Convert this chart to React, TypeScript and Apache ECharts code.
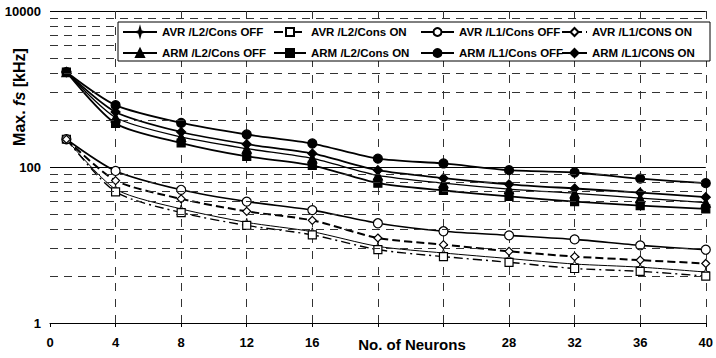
import React, { useEffect, useRef } from "react";
import * as echarts from "echarts";

// Number of neurons at which each configuration was measured
const neurons = [1, 4, 8, 12, 16, 20, 24, 28, 32, 36, 40];

// Maximum sampling frequency fs in kHz
const avrL2ConsOff = [227, 52, 29, 19.5, 14.8, 9.6, 7.9, 6.7, 5.7, 5.2, 4.5];
const avrL2ConsOn = [227, 48, 26, 17.8, 13.5, 8.7, 7.1, 6.0, 5.0, 4.6, 4.0];
const avrL1ConsOff = [227, 89, 51, 36, 28, 19, 15, 13.3, 11.8, 9.9, 8.7];
const avrL1ConsOn = [227, 67, 39, 27, 20.7, 12.3, 10.1, 8.3, 7.1, 6.4, 5.8];
const armL2ConsOff = [1650, 431, 243, 172, 129, 78, 62, 52, 46, 40, 35];
const armL2ConsOn = [1650, 361, 203, 137, 105, 62, 50, 42, 36, 32, 29];
const armL1ConsOff = [1650, 620, 367, 261, 200, 128, 111, 91, 85, 71, 62];
const armL1ConsOn = [1650, 508, 281, 196, 149, 91, 72, 60, 53, 47, 41];

// Dashed horizontal guide lines of the log axis
const minorGrid = [4, 9, 16, 25, 36, 49, 64, 81, 400, 900, 1600, 2500, 3600, 4900, 6400, 8100];

// Tick labels left out on the x axis (the axis title sits there)
const hiddenXLabels = [20, 24];

const FONT = "'Liberation Sans', Arial, Helvetica, sans-serif";
const STAR = "path://M0,-10 L2.2,-2.2 L10,0 L2.2,2.2 L0,10 L-2.2,2.2 L-10,0 L-2.2,-2.2 Z";

type Def = {
  name: string;
  values: number[];
  symbol: string;
  size: number;
  open: boolean;
  width: number;
  dash: any;
};

const defs: Def[] = [
  { name: "AVR /L2/Cons OFF", values: avrL2ConsOff, symbol: STAR, size: 8, open: true, width: 1, dash: "solid" },
  { name: "AVR /L2/Cons ON", values: avrL2ConsOn, symbol: "rect", size: 8, open: true, width: 1.4, dash: [9, 4, 2, 4] },
  { name: "AVR /L1/Cons OFF", values: avrL1ConsOff, symbol: "circle", size: 9, open: true, width: 1.6, dash: "solid" },
  { name: "AVR /L1/CONS ON", values: avrL1ConsOn, symbol: "diamond", size: 8, open: true, width: 2, dash: [8, 4] },
  { name: "ARM /L2/Cons OFF", values: armL2ConsOff, symbol: "triangle", size: 9, open: false, width: 1.3, dash: "solid" },
  { name: "ARM /L2/Cons ON", values: armL2ConsOn, symbol: "rect", size: 8, open: false, width: 1.8, dash: "solid" },
  { name: "ARM /L1/Cons OFF", values: armL1ConsOff, symbol: "circle", size: 9, open: false, width: 1.8, dash: "solid" },
  { name: "ARM /L1/CONS ON", values: armL1ConsOn, symbol: "diamond", size: 9, open: false, width: 1.8, dash: "solid" },
];

// Legend columns: [top row item, bottom row item], left edge, symbol width
const legendColumns: [string[], number, number][] = [
  [["AVR /L2/Cons OFF", "ARM /L2/Cons OFF"], 122, 34],
  [["AVR /L2/Cons ON", "ARM /L2/Cons ON"], 273, 32],
  [["AVR /L1/Cons OFF", "ARM /L1/Cons OFF"], 420, 33],
  [["AVR /L1/CONS ON", "ARM /L1/CONS ON"], 561, 25],
];

export default function App() {
  const ref = useRef<HTMLDivElement>(null);

  useEffect(() => {
    if (!ref.current) return;
    const chart = echarts.init(ref.current, null, { renderer: "svg" });

    const series: any[] = defs.map((d) => ({
      name: d.name,
      type: "line",
      data: neurons.map((n, i) => [n, d.values[i]]),
      symbol: d.symbol,
      symbolSize: d.size,
      smooth: 0.25,
      z: 3,
      lineStyle: { color: "#000", width: d.width, type: d.dash },
      itemStyle: {
        color: d.open ? "#fff" : "#000",
        borderColor: "#000",
        borderWidth: d.symbol === STAR ? 0.9 : 1.2,
      },
      emphasis: { disabled: true },
    }));

    series.push({
      name: "grid",
      type: "line",
      data: [],
      z: 1,
      silent: true,
      markLine: {
        silent: true,
        symbol: "none",
        label: { show: false },
        lineStyle: { color: "#333", width: 1, type: [8, 6] },
        emphasis: { disabled: true },
        data: minorGrid.map((v) => ({ yAxis: v })),
      },
    });

    chart.setOption({
      animation: false,
      backgroundColor: "#fff",
      grid: { left: 50, right: 9, top: 11, bottom: 35 },
      xAxis: {
        type: "value",
        min: 0,
        max: 40,
        interval: 4,
        axisLine: { show: true, lineStyle: { color: "#000", width: 1.2 } },
        axisTick: { show: true, length: 4, lineStyle: { color: "#000" } },
        axisLabel: {
          color: "#000",
          fontFamily: FONT,
          fontWeight: "bold",
          fontSize: 13,
          margin: 13,
          formatter: (v: number) => (hiddenXLabels.includes(v) ? "" : String(v)),
        },
        splitLine: {
          show: true,
          showMinLine: false,
          lineStyle: { color: "#333", width: 1, type: [8, 8] },
        },
      },
      yAxis: {
        type: "log",
        logBase: 100,
        min: 1,
        max: 10000,
        splitNumber: 2,
        axisLine: { show: false },
        axisTick: { show: false },
        axisLabel: {
          color: "#000",
          fontFamily: FONT,
          fontWeight: "bold",
          fontSize: 13,
          margin: 9,
          formatter: (v: number) => String(Math.round(v)),
        },
        splitLine: { show: true, lineStyle: { color: "#000", width: 1.2, type: "solid" } },
      },
      legend: legendColumns.map(([names, left, w]) => ({
        orient: "vertical",
        data: names,
        left,
        top: 26,
        padding: 0,
        itemWidth: w,
        itemHeight: 10,
        itemGap: 9,
        selectedMode: false,
        z: 60,
        textStyle: {
          color: "#000",
          fontFamily: FONT,
          fontWeight: "bold",
          fontSize: 11.5,
        },
      })),
      graphic: [
        {
          type: "rect",
          z: 50,
          shape: { x: 118, y: 22, width: 592, height: 39 },
          style: { fill: "#fff", stroke: "#000", lineWidth: 1 },
          silent: true,
        },
        {
          type: "text",
          z: 50,
          x: 412,
          y: 344,
          style: {
            text: "No. of Neurons",
            fill: "#000",
            font: `bold 15px ${FONT}`,
            textAlign: "center",
            textVerticalAlign: "middle",
          },
          silent: true,
        },
        {
          type: "text",
          z: 50,
          x: 19,
          y: 97,
          rotation: Math.PI / 2,
          style: {
            text: "{a|Max. }{b|fs}{a| [kHz]}",
            textAlign: "center",
            textVerticalAlign: "middle",
            rich: {
              a: { fontFamily: FONT, fontWeight: "bold", fontSize: 16, fill: "#000", color: "#000" },
              b: { fontFamily: FONT, fontWeight: "bold", fontStyle: "italic", fontSize: 16, fill: "#000", color: "#000" },
            },
          },
          silent: true,
        },
      ],
      series,
    });

    return () => chart.dispose();
  }, []);

  return (
    <div
      ref={ref}
      style={{ position: "fixed", left: 0, top: 0, width: 716, height: 358, background: "#fff" }}
    />
  );
}
